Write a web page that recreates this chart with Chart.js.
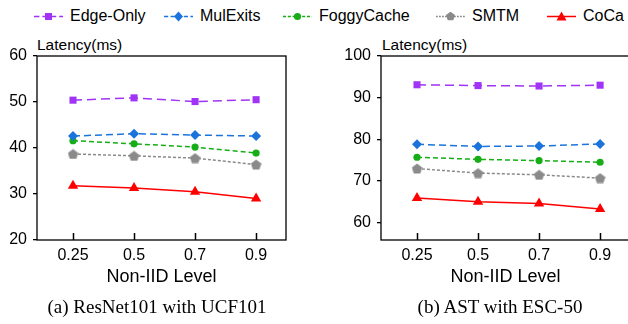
<!DOCTYPE html>
<html>
<head>
<meta charset="utf-8">
<script src="https://cdn.jsdelivr.net/npm/chart.js@4.4.1/dist/chart.umd.min.js"></script>
<style>
body { margin: 0; width: 628px; height: 324px; overflow: hidden; background: #fff; position: relative; font-family: "Liberation Sans", Arial, sans-serif; color: #000; }
.wrap { position: absolute; top: 0; width: 300px; height: 300px; }
.legend-item { position: absolute; top: 6px; height: 20px; display: flex; align-items: center; font-size: 16px; }
.legend-item svg { margin-right: 7px; }
.ytitle { position: absolute; top: 36px; font-size: 15.5px; line-height: 18px; }
.caption { position: absolute; top: 295px; font-family: "Liberation Serif", "Times New Roman", serif; font-size: 19px; line-height: 23px; transform: translateX(-50%); white-space: nowrap; }
</style>
</head>
<body>
<div id="legend"></div>
<div class="ytitle" style="left:37px">Latency(ms)</div>
<div class="ytitle" style="left:382px">Latency(ms)</div>
<div class="wrap" style="left:0"><canvas id="chartA" width="300" height="300"></canvas></div>
<div class="wrap" style="left:344px"><canvas id="chartB" width="300" height="300"></canvas></div>
<div class="caption" style="left:157px">(a) ResNet101 with UCF101</div>
<div class="caption" style="left:500px">(b) AST with ESC-50</div>
<script>
// Non-IID levels on the x axis
const levels = ["0.25", "0.5", "0.7", "0.9"];
const methods = ["Edge-Only", "MulExits", "FoggyCache", "SMTM", "CoCa"];

// (a) ResNet101 with UCF101, latency in ms
const ucfEdgeOnly = [50.4, 50.9, 50.1, 50.5];
const ucfMulExits = [42.6, 43.1, 42.8, 42.6];
const ucfFoggyCache = [41.6, 40.9, 40.2, 38.9];
const ucfSMTM = [38.7, 38.3, 37.8, 36.4];
const ucfCoCa = [31.8, 31.3, 30.5, 29.0];
const ucfTicks = [20, 30, 40, 50, 60];

// (b) AST with ESC-50, latency in ms
const escEdgeOnly = [93.1, 92.9, 92.8, 93.0];
const escMulExits = [78.8, 78.3, 78.4, 78.9];
const escFoggyCache = [75.7, 75.2, 74.9, 74.5];
const escSMTM = [73.0, 71.9, 71.5, 70.7];
const escCoCa = [65.9, 65.0, 64.6, 63.3];
const escTicks = [60, 70, 80, 90, 100];

const colors = ["#a033f5", "#1a74dc", "#16ad16", "#8a8a8a", "#ff0000"];
const dashes = [[9, 5], [7, 4], [5, 3], [3, 2], []];

// chart.js has no pentagon, so make one as an image
function pentagon(color, size) {
	const c = document.createElement("canvas");
	c.width = size;
	c.height = size;
	const g = c.getContext("2d");
	const r = size / 2;
	g.beginPath();
	for (let i = 0; i < 5; i++) {
		const a = -Math.PI / 2 + (i * 2 * Math.PI) / 5;
		g.lineTo(r + r * Math.cos(a), r + 0.6 + r * Math.sin(a));
	}
	g.closePath();
	g.fillStyle = color;
	g.fill();
	return c;
}

const styles = ["rect", "rectRot", "circle", pentagon(colors[3], 11), "triangle"];
const radii = [5, 5, 3.6, 5, 6];

// legend
const legendX = [34, 164, 283, 436, 547];
const legendMarks = [
	'<rect x="11" y="3" width="7" height="7"/>',
	'<polygon points="14.5,1.5 19,6.5 14.5,11.5 10,6.5"/>',
	'<circle cx="14.5" cy="6.5" r="3.6"/>',
	'<polygon points="14.5,1.8 19,5 17.3,10.2 11.7,10.2 10,5"/>',
	'<polygon points="14.5,1.5 19.5,10.5 9.5,10.5"/>',
];
const legend = document.getElementById("legend");
methods.forEach((m, i) => {
	const d = dashes[i].length ? `stroke-dasharray="${dashes[i][0] * 0.6} ${dashes[i][1] * 0.6}"` : "";
	legend.innerHTML +=
		`<div class="legend-item" style="left:${legendX[i]}px">` +
		`<svg width="29" height="13"><line x1="0" y1="6.5" x2="29" y2="6.5" stroke="${colors[i]}" stroke-width="1.5" ${d}/>` +
		`<g fill="${colors[i]}">${legendMarks[i]}</g></svg>${m}</div>`;
});

// box around the plot and inward x ticks
const framePlugin = {
	id: "frame",
	afterDraw(chart) {
		const { ctx, chartArea: a } = chart;
		const xs = chart.scales.x;
		ctx.save();
		ctx.strokeStyle = "#000";
		ctx.lineWidth = 1.3;
		ctx.strokeRect(a.left, a.top, a.right - a.left, a.bottom - a.top);
		ctx.lineWidth = 1.5;
		ctx.beginPath();
		xs.ticks.forEach((t) => {
			const px = Math.round(xs.getPixelForValue(t.value)) + 0.5;
			ctx.moveTo(px, a.bottom);
			ctx.lineTo(px, a.bottom - 7);
		});
		ctx.stroke();
		ctx.restore();
	},
};

const makeChart = (id, series, yTicks, yMin, yMax) => {
	new Chart(document.getElementById(id), {
		type: "line",
		data: {
			datasets: series.map((vals, i) => ({
				label: methods[i],
				data: vals.map((v, j) => ({ x: j + 1, y: v })),
				borderColor: colors[i],
				backgroundColor: colors[i],
				borderWidth: 1.5,
				borderDash: dashes[i],
				pointStyle: styles[i],
				pointRadius: radii[i],
				pointBorderWidth: 0,
				tension: 0,
			})),
		},
		options: {
			responsive: false,
			animation: false,
			layout: { padding: { top: 56, right: 14, bottom: 12.5, left: 0 } },
			plugins: { legend: { display: false }, tooltip: { enabled: false } },
			scales: {
				x: {
					type: "linear",
					min: 0.41,
					max: 4.49,
					afterBuildTicks: (s) => {
						s.ticks = levels.map((l, i) => ({ value: i + 1 }));
					},
					afterFit: (s) => {
						s.height = 47.5;
					},
					grid: { display: false, drawTicks: false },
					border: { display: false },
					ticks: {
						padding: 6,
						color: "#000",
						font: { family: "Liberation Sans", size: 16 },
						callback: (v) => levels[v - 1],
					},
					title: {
						display: true,
						text: "Non-IID Level",
						color: "#000",
						font: { family: "Liberation Sans", size: 18 },
						padding: { top: 0, bottom: 0 },
					},
				},
				y: {
					min: yMin,
					max: yMax,
					afterBuildTicks: (s) => {
						s.ticks = yTicks.map((v) => ({ value: v }));
					},
					afterFit: (s) => {
						s.width = 37;
					},
					grid: { drawOnChartArea: false, drawTicks: true, tickLength: 4, color: "#000", lineWidth: 1.3 },
					border: { display: false },
					ticks: {
						padding: 6,
						color: "#000",
						font: { family: "Liberation Sans", size: 16 },
					},
				},
			},
		},
		plugins: [framePlugin],
	});
};

makeChart("chartA", [ucfEdgeOnly, ucfMulExits, ucfFoggyCache, ucfSMTM, ucfCoCa], ucfTicks, 20, 60);
makeChart("chartB", [escEdgeOnly, escMulExits, escFoggyCache, escSMTM, escCoCa], escTicks, 55.85, 100);
</script>
</body>
</html>
